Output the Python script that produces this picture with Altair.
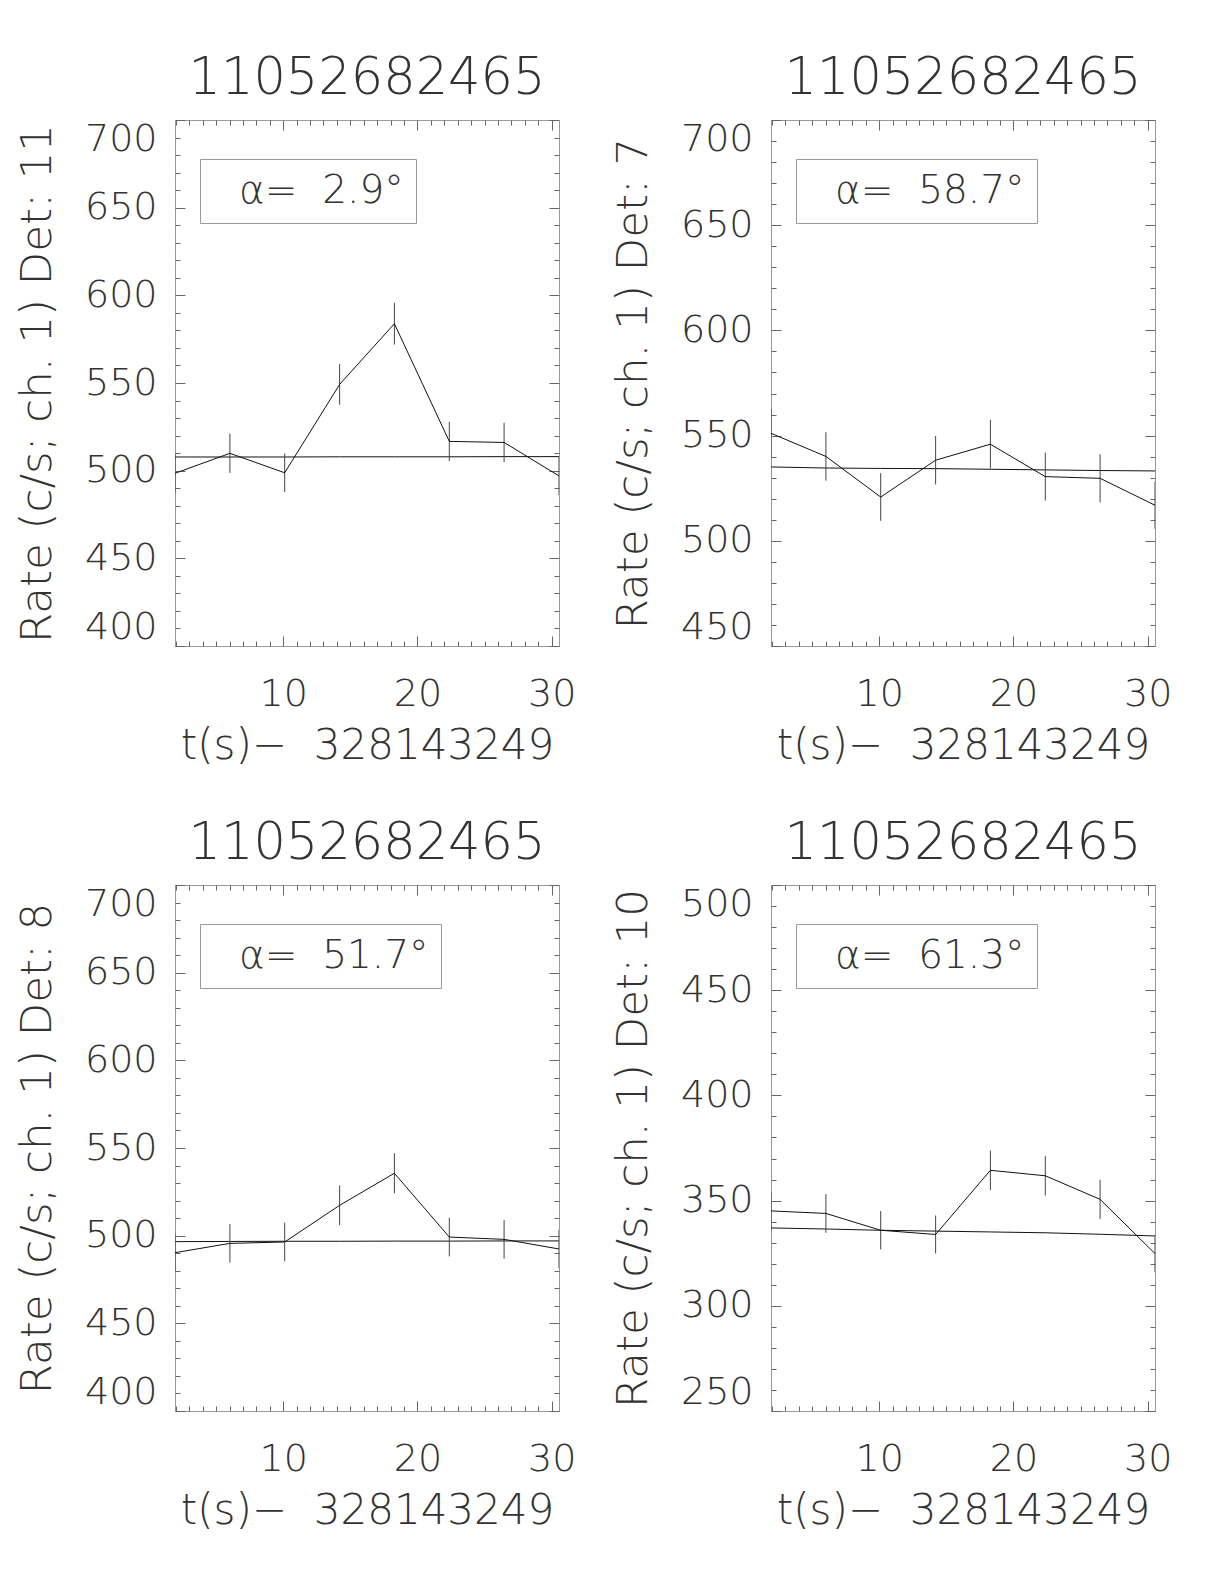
import altair as alt
import pandas as pd

# ---------------- data ----------------
t = [1.94, 6.03, 10.11, 14.20, 18.28, 22.37, 26.45, 30.54]
x_domain = [1.94, 30.54]
x_label_values = [10, 20, 30]
x_minor_values = list(range(2, 31))

panel_title = "11052682465"
x_title = "t(s)\u2212\u00a0 328143249"

dets = ["11", "7", "8", "10"]
alphas = ["2.9", "58.7", "51.7", "61.3"]

rate_det11 = [498.5, 509.9, 498.8, 549.2, 583.8, 516.7, 516.1, 497.0]
err_det11 = [11.0, 11.2, 11.0, 11.6, 11.9, 11.2, 11.2, 11.0]
bkg_det11 = [507.8, 507.8, 507.8, 507.9, 507.9, 507.9, 508.0, 508.0]

rate_det7 = [551.1, 540.1, 520.8, 538.3, 545.9, 530.5, 529.7, 516.9]
err_det7 = [11.6, 11.5, 11.3, 11.5, 11.6, 11.4, 11.4, 11.2]
bkg_det7 = [535.1, 534.6, 534.4, 534.3, 534.0, 533.7, 533.4, 533.2]

rate_det8 = [490.3, 495.6, 496.4, 517.3, 535.6, 499.2, 497.9, 492.4]
err_det8 = [10.9, 11.0, 11.0, 11.3, 11.4, 11.0, 11.0, 11.0]
bkg_det8 = [496.6, 496.7, 496.8, 496.8, 496.9, 496.9, 497.0, 497.0]

rate_det10 = [345.1, 343.9, 335.9, 333.9, 364.4, 361.8, 350.6, 324.8]
err_det10 = [9.2, 9.2, 9.1, 9.0, 9.4, 9.4, 9.3, 8.9]
bkg_det10 = [337.0, 336.5, 335.9, 335.5, 335.1, 334.7, 334.0, 333.2]

y_domains = [[400, 700], [450, 700], [400, 700], [250, 500]]

rates = [rate_det11, rate_det7, rate_det8, rate_det10]
errs = [err_det11, err_det7, err_det8, err_det10]
bkgs = [bkg_det11, bkg_det7, bkg_det8, bkg_det10]

# ---------------- style ----------------
W, H = 384, 526
FONT = "'DejaVu Sans ExtraLight', 'DejaVu Sans'"
FW = 200
TXT = "#333333"
LINE = "#111111"
AXC = "#999999"
TICKC = "#666666"


def panel(i):
    lo, hi = y_domains[i]
    df = pd.DataFrame({
        "t": t,
        "rate": rates[i],
        "lo": [r - e for r, e in zip(rates[i], errs[i])],
        "hi": [r + e for r, e in zip(rates[i], errs[i])],
        "bkg": bkgs[i],
        "lab": ["\u03b1=\u00a0 " + alphas[i] + "\u00b0"] * len(t),
    })
    xs = alt.Scale(domain=x_domain, nice=False, zero=False)
    ys = alt.Scale(domain=y_domains[i], nice=False, zero=False)
    base = alt.Chart(df)

    y_major = list(range(lo, hi + 1, 50))
    y_minor = list(range(lo, hi + 1, 10))

    x_lab_axis = alt.Axis(
        values=x_label_values, ticks=False, tickSize=0, domain=False, grid=False,
        labelFont=FONT, labelFontSize=38, labelFontWeight=FW, labelColor=TXT,
        labelPadding=29, labelOverlap=False, format="d",
        title=x_title, titleFont=FONT, titleFontSize=42, titleFontWeight=FW,
        titleColor=TXT, titlePadding=12, titleLimit=1000)
    y_lab_axis = alt.Axis(
        values=y_major, ticks=False, tickSize=0, domain=False, grid=False,
        labelFont=FONT, labelFontSize=38, labelFontWeight=FW, labelColor=TXT,
        labelPadding=18, labelFlush=True, labelOverlap=False, format="d",
        title="Rate (c/s; ch. 1) Det: " + dets[i], titleFont=FONT,
        titleFontSize=43.5, titleFontWeight=FW, titleColor=TXT,
        titlePadding=25, titleLimit=1000)

    x_tick_size = {"condition": {"test": "datum.value % 10 === 0", "value": 10}, "value": 5}
    y_tick_size = {"condition": {"test": "datum.value % 50 === 0", "value": 10}, "value": 5}

    def tick_axis(orient, offset, values, size):
        return alt.Axis(orient=orient, offset=offset, values=values, labels=False,
                        domain=False, grid=False, tickSize=size, tickColor=TICKC,
                        tickWidth=1, title=None)

    line = base.mark_line(strokeWidth=1, clip=True).encode(
        x=alt.X("t:Q", scale=xs, axis=x_lab_axis),
        y=alt.Y("rate:Q", scale=ys, axis=y_lab_axis),
        color=alt.Color("lab:N", scale=alt.Scale(range=[LINE]), legend=alt.Legend(
            orient="none", legendX=25, legendY=39, title=None, strokeColor=AXC,
            fillColor="white", padding=12, symbolOpacity=0, symbolSize=4,
            symbolStrokeWidth=0, labelOffset={"expr": "-12"}, labelFont=FONT,
            labelFontSize=39, labelFontWeight=FW, labelColor=TXT, labelLimit=600)),
    )
    bkg = base.mark_line(strokeWidth=1, color=LINE, clip=True).encode(
        x=alt.X("t:Q", scale=xs, axis=None),
        y=alt.Y("bkg:Q", scale=ys, axis=None),
    )
    ebar = base.mark_rule(strokeWidth=1, color="#444444", clip=True).encode(
        x=alt.X("t:Q", scale=xs, axis=None),
        y=alt.Y("lo:Q", scale=ys, axis=None),
        y2="hi:Q",
    )
    # inward ticks at bottom and left
    ticks_bl = base.mark_point(opacity=0).encode(
        x=alt.X("t:Q", scale=xs, axis=tick_axis("top", -H, x_minor_values, x_tick_size)),
        y=alt.Y("rate:Q", scale=ys, axis=tick_axis("right", -W, y_minor, y_tick_size)),
    )
    # inward ticks at top and right
    ticks_tr = base.mark_point(opacity=0).encode(
        x=alt.X("t:Q", scale=xs, axis=tick_axis("bottom", -H, x_minor_values, x_tick_size)),
        y=alt.Y("rate:Q", scale=ys, axis=tick_axis("left", -W, y_minor, y_tick_size)),
    )
    return alt.layer(bkg, ebar, line, ticks_bl, ticks_tr).resolve_axis(
        x="independent", y="independent"
    ).properties(
        width=W, height=H,
        title=alt.TitleParams(text=panel_title, font=FONT, fontSize=51, fontWeight=FW,
                              color=TXT, offset=-25, baseline="alphabetic",
                              anchor="middle", frame="group"),
    )


chart = alt.concat(
    *[panel(i) for i in range(4)], columns=2,
    spacing={"row": 239, "column": 212}, bounds="flush",
).resolve_scale(color="independent").resolve_legend(color="independent").configure_view(
    stroke=AXC, strokeWidth=1
).properties(
    padding={"left": 6, "top": 44, "right": 5, "bottom": 5},
    background="white",
)

chart.save("out.html", embed_options={"renderer": "svg", "actions": False})
